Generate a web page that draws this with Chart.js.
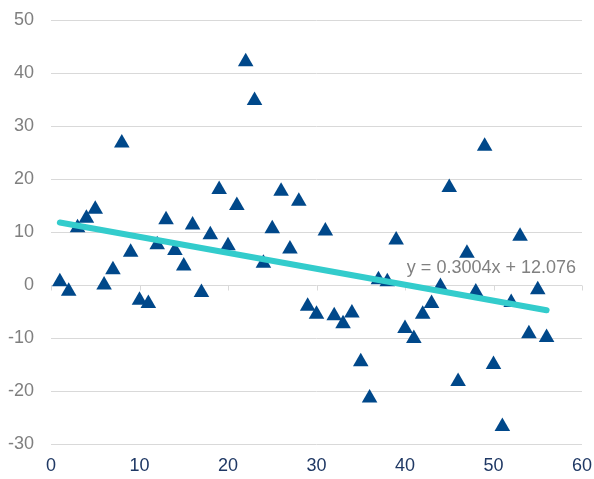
<!DOCTYPE html>
<html>
<head>
<meta charset="utf-8">
<script src="https://cdn.jsdelivr.net/npm/chart.js@4/dist/chart.umd.min.js"></script>
<style>
  html, body { margin: 0; padding: 0; background: #fff; }
  #wrap { width: 594px; height: 479px; }
</style>
</head>
<body>
<div id="wrap"><canvas id="scatterChart" width="594" height="479"></canvas></div>
<script>
// Observations (x = period index, y = value)
const xValues = [1, 2, 3, 4, 5, 6, 7, 8, 9, 10, 11, 12, 13, 14, 15, 16, 17, 18, 19, 20,
                 21, 22, 23, 24, 25, 26, 27, 28, 29, 30, 31, 32, 33, 34, 35, 36, 37, 38, 39, 40,
                 41, 42, 43, 44, 45, 46, 47, 48, 49, 50, 51, 52, 53, 54, 55, 56];
const yValues = [0.6, -1.2, 10.8, 12.6, 14.3, 0, 2.9, 26.8, 6.2, -2.9, -3.5, 7.6, 12.3, 6.5, 3.6, 11.3, -1.4, 9.5, 18, 7.4,
                 15, 42.1, 34.8, 4.1, 10.6, 17.7, 6.8, 15.8, -4.0, -5.5, 10.2, -5.8, -7.3, -5.3, -14.5, -21.3, 1.0, 0.6, 8.5, -8.2,
                 -10.1, -5.5, -3.5, -0.3, 18.4, -18.2, 6.0, -1.3, 26.2, -15.0, -26.7, -3.3, 9.2, -9.2, -0.9, -9.9];

// Linear trendline end points, as drawn
const trendX = [1, 56];
const trendY = [11.78, -4.75];
const trendLabel = 'y = 0.3004x + 12.076';

// Axis ticks
const xTicks = [0, 10, 20, 30, 40, 50, 60];
const yTicks = [-30, -20, -10, 0, 10, 20, 30, 40, 50];

const FONT = '"Liberation Sans", Arial, sans-serif';

const points = xValues.map((x, i) => ({ x: x, y: yValues[i] }));
const trend = trendX.map((x, i) => ({ x: x, y: trendY[i] }));

// Small tick marks hanging below the horizontal axis at y = 0
const axisTicks = {
  id: 'axisTicks',
  beforeDatasetsDraw(chart) {
    const ctx = chart.ctx;
    const xs = chart.scales.x, ys = chart.scales.y;
    const y0 = Math.round(ys.getPixelForValue(0)) + 0.5;
    ctx.save();
    ctx.strokeStyle = '#d9d9d9';
    ctx.lineWidth = 1;
    ctx.beginPath();
    xTicks.forEach(v => {
      const px = Math.round(xs.getPixelForValue(v)) + 0.5;
      ctx.moveTo(px, y0);
      ctx.lineTo(px, y0 + 5);
    });
    ctx.stroke();
    ctx.restore();
  }
};

// Trendline equation text
const trendText = {
  id: 'trendText',
  afterDatasetsDraw(chart) {
    const ctx = chart.ctx;
    const area = chart.chartArea;
    const ys = chart.scales.y;
    ctx.save();
    ctx.font = '18px ' + FONT;
    ctx.fillStyle = '#808080';
    ctx.textAlign = 'right';
    ctx.textBaseline = 'middle';
    ctx.fillText(trendLabel, area.right - 6, ys.getPixelForValue(0) - 17);
    ctx.restore();
  }
};

const ctx = document.getElementById('scatterChart').getContext('2d');
const chart = new Chart(ctx, {
  type: 'scatter',
  data: {
    datasets: [
      {
        label: 'Trend',
        type: 'line',
        data: trend,
        borderColor: '#33cccc',
        borderWidth: 6,
        borderCapStyle: 'round',
        pointRadius: 0,
        fill: false,
        order: 0
      },
      {
        label: 'Values',
        data: points,
        pointStyle: 'triangle',
        pointRadius: 9,
        pointHoverRadius: 9,
        backgroundColor: '#00488a',
        borderColor: '#00488a',
        borderWidth: 0,
        order: 1
      }
    ]
  },
  options: {
    responsive: false,
    animation: false,
    devicePixelRatio: 1,
    layout: { padding: { top: 20, right: 12, left: 0, bottom: 0 } },
    plugins: {
      legend: { display: false },
      tooltip: { enabled: false }
    },
    scales: {
      x: {
        type: 'linear',
        min: 0,
        max: 60,
        afterBuildTicks: (scale) => { scale.ticks = xTicks.map(v => ({ value: v })); },
        afterFit: (scale) => {
          scale.height = 35;
          scale.paddingLeft = 0;
          scale.paddingRight = 0;
        },
        grid: { display: false, drawTicks: false },
        border: { display: false },
        ticks: { color: '#1f3864', font: { family: FONT, size: 18 }, padding: 11 }
      },
      y: {
        min: -30,
        max: 50,
        afterBuildTicks: (scale) => { scale.ticks = yTicks.map(v => ({ value: v })); },
        afterFit: (scale) => {
          scale.width = 51;
          scale.paddingTop = 0;
          scale.paddingBottom = 0;
        },
        grid: { color: '#d9d9d9', lineWidth: 1, drawTicks: false },
        border: { display: false },
        ticks: { color: '#7f7f7f', font: { family: FONT, size: 18 }, padding: 17 }
      }
    }
  },
  plugins: [axisTicks, trendText]
});
</script>
</body>
</html>
